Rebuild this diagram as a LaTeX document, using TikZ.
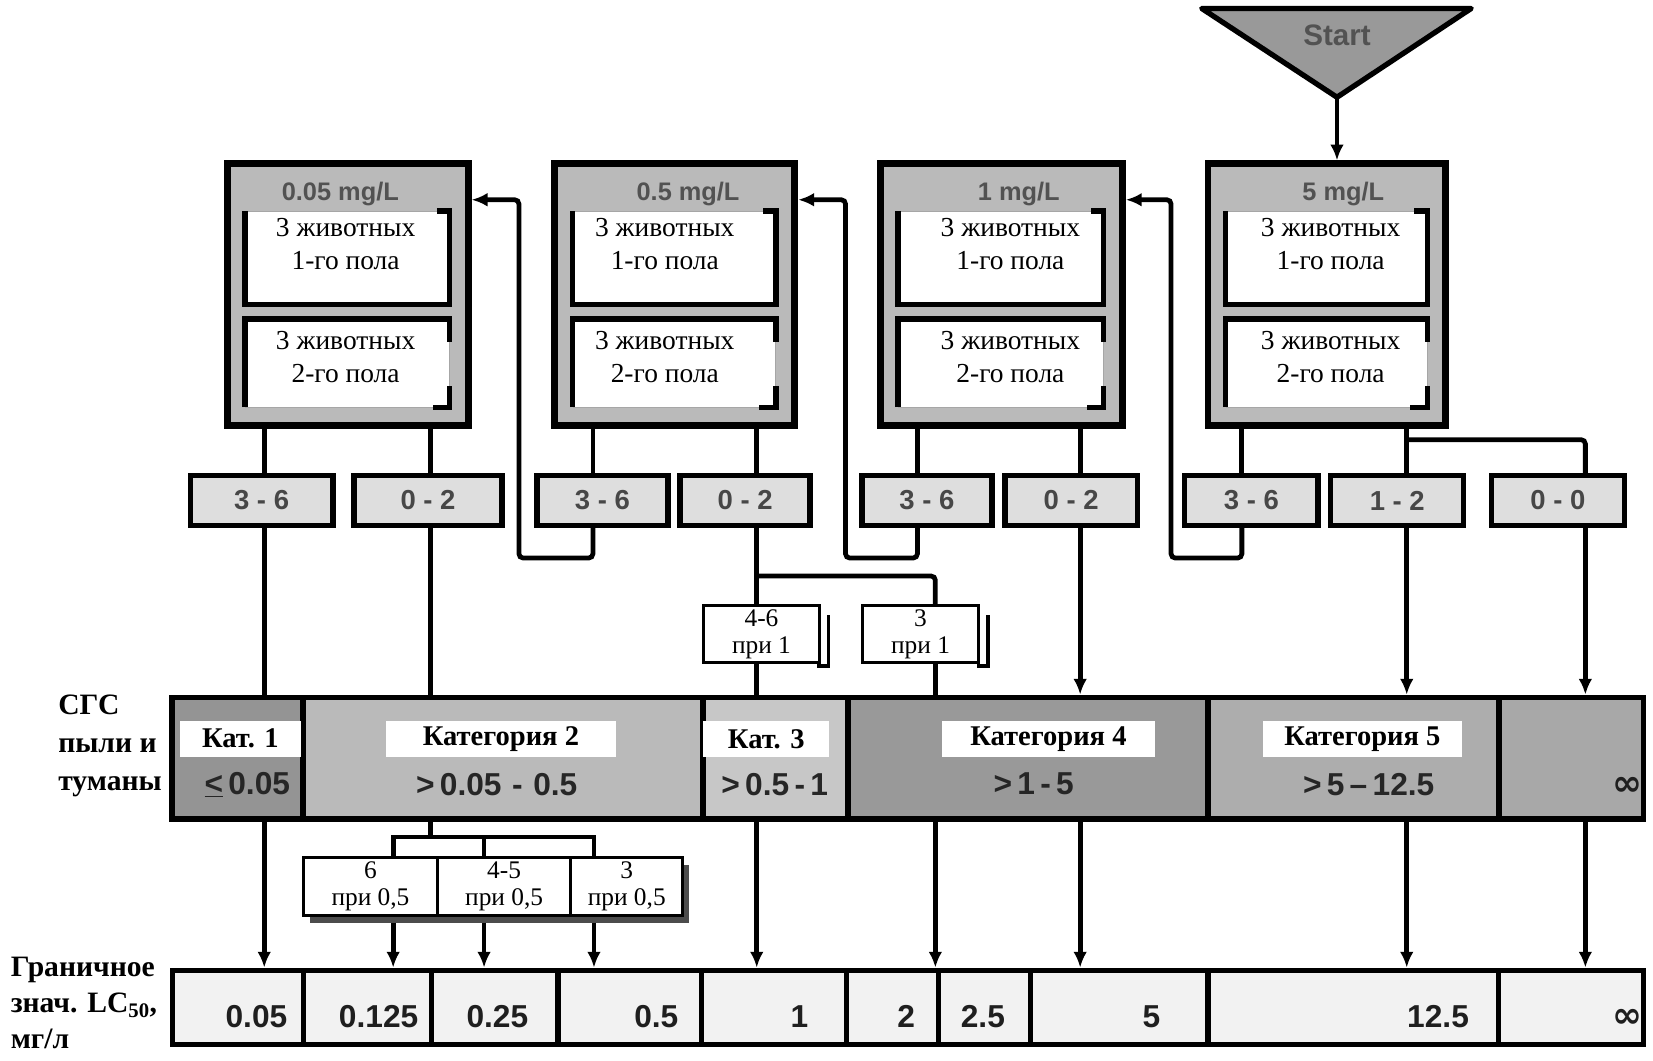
\documentclass[tikz,border=0pt]{standalone}
\usepackage{fontspec}
\setmainfont{Liberation Serif}
\setsansfont{Liberation Sans}
\newfontfamily\symfont{DejaVu Sans}
\usetikzlibrary{arrows.meta}
\begin{document}
\begin{tikzpicture}[x=1pt,y=-1pt,
  conn/.style={line width=4.5pt},
  arr/.style={line width=4.5pt,-{Latex[length=15pt,width=13pt]}},
  outerbox/.style={draw,line width=6.5pt,fill=black!27,inner sep=0pt,minimum height=248pt},
  inbox/.style={fill=white,draw=black!35,line width=0.6pt,inner sep=0pt},
  inedge/.style={line width=5pt},
  titletext/.style={font=\sffamily\bfseries\fontsize{24}{28}\selectfont,text=black!68},
  intext/.style={font=\fontsize{26}{31}\selectfont,align=center,inner sep=0pt},
  smallbox/.style={draw,line width=5pt,fill=black!13,inner sep=0pt,minimum height=47pt,font=\sffamily\bfseries\fontsize{26}{30}\selectfont,text=black!72},
  notebox/.style={draw,line width=3pt,fill=white,inner sep=0pt,align=center,font=\fontsize{24}{25}\selectfont},
  catcell/.style={draw,line width=5.5pt,inner sep=0pt,minimum height=115pt},
  catlabel/.style={fill=white,inner sep=0pt,minimum height=34pt,font=\bfseries\fontsize{27}{30}\selectfont},
  rangetext/.style={font=\sffamily\bfseries\fontsize{30}{32}\selectfont,text=black!85,inner sep=0pt},
  valcell/.style={draw,line width=5pt,fill=black!5,inner sep=0pt,minimum height=70pt},
  valtext/.style={font=\sffamily\bfseries\fontsize{30}{32}\selectfont,text=black!88,inner sep=0pt,anchor=east},
  inftext/.style={font=\symfont\bfseries\fontsize{34}{34}\selectfont,text=black!88,inner sep=0pt,anchor=east},
  sidetext/.style={font=\bfseries\fontsize{28}{36}\selectfont,align=left,inner sep=0pt,anchor=west}
]
\useasboundingbox (0,0) rectangle (1564,1003);

% column coordinates
\coordinate (cA) at (250,0);
\coordinate (cB) at (407,0);
\coordinate (cC) at (561,0);
\coordinate (cD) at (716,0);
\coordinate (cE) at (868,0);
\coordinate (cF) at (1022,0);
\coordinate (cG) at (1175,0);
\coordinate (cH) at (1331,0);
\coordinate (cI) at (1500,0);
\coordinate (cJ) at (885,0);
\coordinate (cL) at (372,0);
\coordinate (cM) at (458,0);
\coordinate (cN) at (562,0);
\coordinate (lA) at (491,0);
\coordinate (lB) at (800,0);
\coordinate (lC) at (1108,0);
\coordinate (ay) at (0,189);
\coordinate (ly) at (0,528);
\coordinate (by) at (0,416);
\coordinate (py) at (0,545);
\coordinate (qy) at (0,792);

% Start triangle
\draw[line width=5pt,fill=black!40,line join=round] (1137,8) -- (1392,8) -- (1265,92) -- cycle;
\node[font=\sffamily\bfseries\fontsize{28}{30}\selectfont,text=black!68] (start) at (1265,33) {Start};
\coordinate (sa) at (1265,92);

% top boxes
\node[outerbox,minimum width=228pt] (b1) at (329,279) {};
\node[outerbox,minimum width=227pt] (b2) at (638.5,279) {};
\node[outerbox,minimum width=229pt] (b3) at (947.5,279) {};
\node[outerbox,minimum width=225pt] (b4) at (1255.5,279) {};

\foreach \n/\cx/\w in {1/328.5/193,2/638/192,3/947/194,4/1255/190}{
  \node[inbox,minimum width=\w pt,minimum height=88pt] (b\n a) at (\cx,244) {};
  \node[inbox,minimum width=\w pt,minimum height=83pt] (b\n b) at (\cx,343.5) {};
  \draw[inedge] ([xshift=-12pt]b\n a.north east) -- (b\n a.north east) -- (b\n a.south east) -- (b\n a.south west) -- (b\n a.north west);
  \draw[inedge] (b\n b.south west) -- (b\n b.north west) -- (b\n b.north east) -- ([yshift=-22pt]b\n b.north east);
  \draw[inedge] ([yshift=20pt]b\n b.south east) -- (b\n b.south east) -- ([xshift=-16pt]b\n b.south east);
}

\node[titletext] (t1) at (322,184) {0.05 mg/L};
\node[titletext] (t2) at (651,184) {0.5 mg/L};
\node[titletext] (t3) at (964,184) {1 mg/L};
\node[titletext] (t4) at (1271,184) {5 mg/L};

\foreach \n/\cx in {1/327,2/629,3/956,4/1259}{
  \node[intext] (b\n at) at (\cx,231) {3 животных\\1-го пола};
  \node[intext] (b\n bt) at (\cx,338) {3 животных\\2-го пола};
}

% small result boxes
\node[smallbox,minimum width=135pt] (s1) at (247.5,473.5) {3 - 6};
\node[smallbox,minimum width=140pt] (s2) at (405,473.5) {0 - 2};
\node[smallbox,minimum width=124pt] (s3) at (570,473.5) {3 - 6};
\node[smallbox,minimum width=123pt] (s4) at (705,473.5) {0 - 2};
\node[smallbox,minimum width=123pt] (s5) at (877,473.5) {3 - 6};
\node[smallbox,minimum width=125pt] (s6) at (1013.5,473.5) {0 - 2};
\node[smallbox,minimum width=126pt] (s7) at (1184,473.5) {3 - 6};
\node[smallbox,minimum width=126pt] (s8) at (1322,473.5) {1 - 2};
\node[smallbox,minimum width=126pt] (s9) at (1474,473.5) {0 - 0};

% notes under 0-2
\draw[line width=3.5pt] (784,582) -- (784,630) -- (773,630);
\draw[line width=3.5pt] (935,582) -- (935,630) -- (924,630);
\node[notebox,minimum width=109pt,minimum height=54pt] (p1) at (720.5,600) {4-6\\при 1};
\node[notebox,minimum width=110pt,minimum height=54pt] (p2) at (871,600) {3\\при 1};

% category band
\node[catcell,fill=black!42,minimum width=124pt] (k1) at (225,717.5) {};
\node[catcell,fill=black!27,minimum width=378pt] (k2) at (476,717.5) {};
\node[catcell,fill=black!22,minimum width=137pt] (k3) at (733.5,717.5) {};
\node[catcell,fill=black!40,minimum width=341pt] (k4) at (972.5,717.5) {};
\node[catcell,fill=black!32,minimum width=275pt] (k5) at (1280.5,717.5) {};
\node[catcell,fill=black!34,minimum width=137pt] (k6) at (1486.5,717.5) {};

\node[catlabel,minimum width=115pt] (w1) at (227.5,699) {Кат. 1};
\node[catlabel,minimum width=218pt] (w2) at (474,699) {Категория 2};
\node[catlabel,minimum width=119pt] (w3) at (725,699) {Кат. 3};
\node[catlabel,minimum width=202pt] (w4) at (992,699) {Категория 4};
\node[catlabel,minimum width=188pt] (w5) at (1289,699) {Категория 5};

\node[rangetext] (r1) at (234,742) {\underline{<}\,0.05};
\node[rangetext] (r2) at (470,742) {>\,0.05\,\,-\,\,0.5};
\node[rangetext] (r3) at (733,742) {>\,0.5\,-\,1};
\node[rangetext] (r4) at (978,742) {>\,1\,-\,5};
\node[rangetext] (r5) at (1295,742) {>\,5\,–\,12.5};
\node[inftext] (r6) at (1554,744) {∞};

\node[sidetext] (lab1) at (55,706) {СГС\\пыли и\\туманы};

% notes under Cat 2
\fill[black!70] (293,818) rectangle (652,873);
\node[notebox,minimum width=127pt,minimum height=55pt] (q1) at (350.5,838.5) {6\\при 0,5};
\node[notebox,minimum width=126pt,minimum height=55pt] (q2) at (477,838.5) {4-5\\при 0,5};
\node[notebox,minimum width=106pt,minimum height=55pt] (q3) at (593,838.5) {3\\при 0,5};

% value row
\node[valcell,minimum width=124pt] (v1) at (225,953) {};
\node[valcell,minimum width=121pt] (v2) at (347.5,953) {};
\node[valcell,minimum width=120pt] (v3) at (468,953) {};
\node[valcell,minimum width=136pt] (v4) at (596,953) {};
\node[valcell,minimum width=137pt] (v5) at (732.5,953) {};
\node[valcell,minimum width=87pt] (v6) at (844.5,953) {};
\node[valcell,minimum width=87pt] (v7) at (931.5,953) {};
\node[valcell,minimum width=168pt] (v8) at (1059,953) {};
\node[valcell,minimum width=275pt] (v9) at (1280.5,953) {};
\node[valcell,minimum width=137pt] (v10) at (1486.5,953) {};

\node[valtext] (n1) at (272,962) {0.05};
\node[valtext] (n2) at (396,962) {0.125};
\node[valtext] (n3) at (500,962) {0.25};
\node[valtext] (n4) at (642,962) {0.5};
\node[valtext] (n5) at (765,962) {1};
\node[valtext] (n6) at (866,962) {2};
\node[valtext] (n7) at (951,962) {2.5};
\node[valtext] (n8) at (1098,962) {5};
\node[valtext] (n9) at (1390,962) {12.5};
\node[inftext] (n10) at (1554,964) {∞};

\node[sidetext,font=\bfseries\fontsize{28}{34}\selectfont] (lab2) at (10,949) {Граничное\\знач. LC\textsubscript{50},\\мг/л};

% connectors
\draw[arr] (sa) -- (sa |- b4.north);

\draw[conn] (cA |- b1.south) -- (cA |- s1.north);
\draw[conn] (cB |- b1.south) -- (cB |- s2.north);
\draw[conn] (cC |- b2.south) -- (cC |- s3.north);
\draw[conn] (cD |- b2.south) -- (cD |- s4.north);
\draw[conn] (cE |- b3.south) -- (cE |- s5.north);
\draw[conn] (cF |- b3.south) -- (cF |- s6.north);
\draw[conn] (cG |- b4.south) -- (cG |- s7.north);
\draw[conn] (cH |- b4.south) -- (cH |- s8.north);
\draw[conn,rounded corners=4pt] (cH |- by) -- (cI |- by) -- (cI |- s9.north);

% feedback loops
\draw[arr,rounded corners=4pt] (cC |- s3.south) -- (cC |- ly) -- (lA |- ly) -- (lA |- ay) -- (b1.east |- ay);
\draw[arr,rounded corners=4pt] (cE |- s5.south) -- (cE |- ly) -- (lB |- ly) -- (lB |- ay) -- (b2.east |- ay);
\draw[arr,rounded corners=4pt] (cG |- s7.south) -- (cG |- ly) -- (lC |- ly) -- (lC |- ay) -- (b3.east |- ay);

% to category band
\draw[conn] (cA |- s1.south) -- (cA |- k1.north);
\draw[conn] (cB |- s2.south) -- (cB |- k2.north);
\draw[conn] (cD |- s4.south) -- (cD |- p1.north);
\draw[conn,rounded corners=4pt] (cD |- py) -- (cJ |- py) -- (cJ |- p2.north);
\draw[conn] (cD |- p1.south) -- (cD |- k3.north);
\draw[conn] (cJ |- p2.south) -- (cJ |- k4.north);
\draw[arr] (cF |- s6.south) -- (cF |- k4.north);
\draw[arr] (cH |- s8.south) -- (cH |- k5.north);
\draw[arr] (cI |- s9.south) -- (cI |- k6.north);

% to value row
\draw[arr] (cA |- k1.south) -- (cA |- v1.north);
\draw[conn] (cB |- k2.south) -- (cB |- qy);
\draw[conn] (cL |- q1.north) -- (cL |- qy) -- (cN |- qy) -- (cN |- q3.north);
\draw[conn] (cM |- qy) -- (cM |- q2.north);
\draw[arr] (cL |- 0,873) -- (cL |- v2.north);
\draw[arr] (cM |- 0,873) -- (cM |- v3.north);
\draw[arr] (cN |- 0,873) -- (cN |- v4.north);
\draw[arr] (cD |- k3.south) -- (cD |- v5.north);
\draw[arr] (cJ |- k4.south) -- (cJ |- v6.north);
\draw[arr] (cF |- k4.south) -- (cF |- v8.north);
\draw[arr] (cH |- k5.south) -- (cH |- v9.north);
\draw[arr] (cI |- k6.south) -- (cI |- v10.north);
\end{tikzpicture}
\end{document}
